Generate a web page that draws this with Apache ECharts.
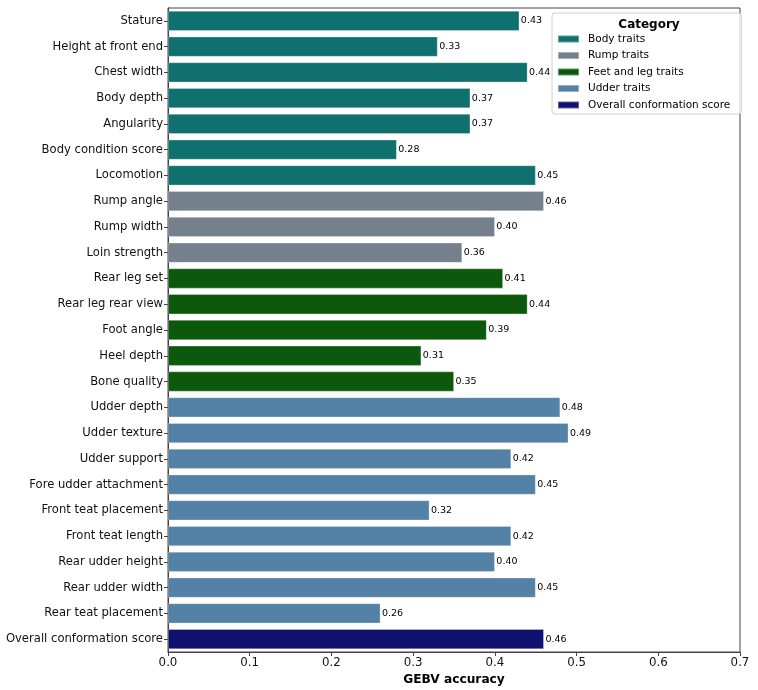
<!DOCTYPE html>
<html><head><meta charset="utf-8">
<script src="https://cdn.jsdelivr.net/npm/echarts@6/dist/echarts.min.js"></script>
<style>html,body{margin:0;padding:0;background:#fff}#c{width:758px;height:690px}</style>
</head><body><div id="c"></div>
<script>
const traits = ["Stature","Height at front end","Chest width","Body depth","Angularity","Body condition score","Locomotion","Rump angle","Rump width","Loin strength","Rear leg set","Rear leg rear view","Foot angle","Heel depth","Bone quality","Udder depth","Udder texture","Udder support","Fore udder attachment","Front teat placement","Front teat length","Rear udder height","Rear udder width","Rear teat placement","Overall conformation score"];
const accuracy = [0.43,0.33,0.44,0.37,0.37,0.28,0.45,0.46,0.40,0.36,0.41,0.44,0.39,0.31,0.35,0.48,0.49,0.42,0.45,0.32,0.42,0.40,0.45,0.26,0.46];
const traitCategory = ["Body traits","Body traits","Body traits","Body traits","Body traits","Body traits","Body traits","Rump traits","Rump traits","Rump traits","Feet and leg traits","Feet and leg traits","Feet and leg traits","Feet and leg traits","Feet and leg traits","Udder traits","Udder traits","Udder traits","Udder traits","Udder traits","Udder traits","Udder traits","Udder traits","Udder traits","Overall conformation score"];
const categories = ["Body traits","Rump traits","Feet and leg traits","Udder traits","Overall conformation score"];
const categoryColors = ["#107070","#74808c","#0c580c","#5481a6","#101070"];
const xTicks = [0,0.1,0.2,0.3,0.4,0.5,0.6,0.7];

const FONT = "DejaVu Sans";
const series = categories.map((cat, ci) => ({
  name: cat,
  type: 'bar',
  stack: 'all',
  barWidth: '78%',
  itemStyle: {color: categoryColors[ci], borderColor: 'rgba(255,255,255,0.35)', borderWidth: 0.8},
  label: {show: true, position: 'right', distance: 1.5, color: '#000', fontSize: 9.5, fontFamily: FONT,
          formatter: p => Number(p.value).toFixed(2)},
  data: accuracy.map((v, i) => traitCategory[i] === cat ? v : '-')
}));

const chart = echarts.init(document.getElementById('c'), null, {renderer: 'canvas'});
chart.setOption({
  animation: false,
  backgroundColor: '#fff',
  textStyle: {fontFamily: FONT},
  grid: {left: 168, right: 18, top: 8, bottom: 38, containLabel: false, outerBoundsMode: 'none',
         show: true, borderColor: '#444', borderWidth: 1, backgroundColor: 'transparent'},
  title: {text: 'Category', left: 644, top: 14, textAlign: 'center',
          textStyle: {fontFamily: FONT, fontSize: 12, fontWeight: 'bold', color: '#000'}},
  legend: {
    orient: 'vertical', left: 552, top: 13,
    data: categories,
    itemWidth: 21, itemHeight: 7, itemGap: 4.5,
    padding: [20, 11, 3, 5],
    borderColor: '#d0d0d0', borderWidth: 1, borderRadius: 3,
    backgroundColor: 'rgba(255,255,255,0.8)',
    icon: 'rect',
    textStyle: {fontFamily: FONT, fontSize: 10.5, lineHeight: 12, color: '#000', padding: [0,0,0,4]}
  },
  xAxis: {
    type: 'value', min: 0, max: 0.7, interval: 0.1,
    name: 'GEBV accuracy', nameLocation: 'middle', nameGap: 18,
    nameTextStyle: {fontFamily: FONT, fontSize: 12.2, fontWeight: 'bold', color: '#000'},
    axisLine: {show: true, lineStyle: {color: '#444', width: 1}},
    axisTick: {show: true, length: 4, lineStyle: {color: '#444'}},
    axisLabel: {fontFamily: FONT, fontSize: 11.8, color: '#111', margin: 5,
                formatter: v => Number(v).toFixed(1)},
    splitLine: {show: false}
  },
  yAxis: {
    type: 'category', data: traits, inverse: true,
    axisLine: {show: true, lineStyle: {color: '#444', width: 1}},
    axisTick: {show: true, length: 4, alignWithLabel: true, lineStyle: {color: '#444'}},
    axisLabel: {fontFamily: FONT, fontSize: 11.6, color: '#111', margin: 5},
    splitLine: {show: false}
  },
  series: series
});
</script></body></html>
